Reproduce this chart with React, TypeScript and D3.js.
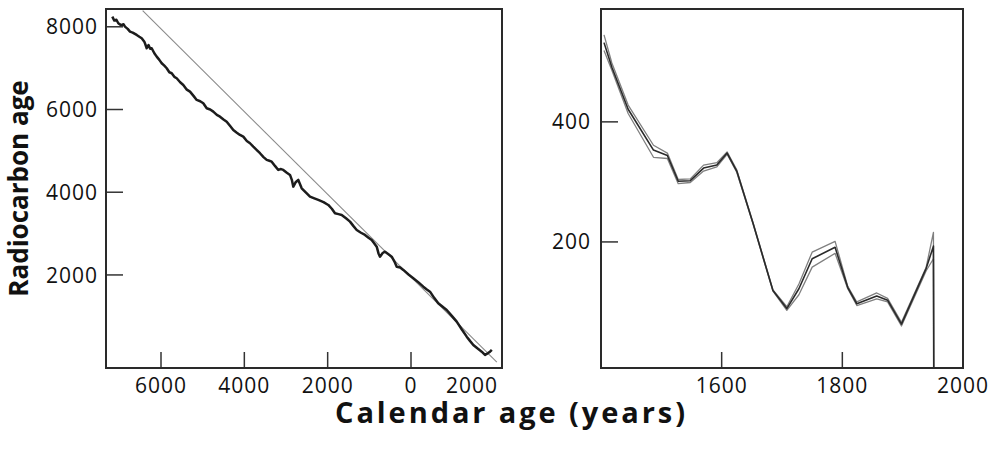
import React from 'react';
import * as d3 from 'd3';

// left panel: calibration curve, calendar year (BC negative) vs radiocarbon age
const calYears = [
  -7169, -7120, -7070, -7025, -6960, -6900, -6864, -6800, -6744, -6680, -6583, -6520, -6463, -6400,
  -6370, -6343, -6300, -6260, -6223, -6160, -6103, -6040, -5983, -5920, -5863, -5800, -5743, -5680,
  -5623, -5540, -5465, -5380, -5304, -5220, -5143, -5060, -4985, -4903, -4820, -4745, -4660, -4584,
  -4500, -4423, -4340, -4265, -4180, -4104, -4025, -3940, -3864, -3785, -3700, -3624, -3540, -3463,
  -3400, -3343, -3260, -3185, -3120, -3065, -2980, -2904, -2860, -2825, -2770, -2705, -2623, -2520,
  -2424, -2320, -2225, -2100, -1985, -1900, -1824, -1740, -1663, -1560, -1464, -1380, -1303, -1200,
  -1104, -1020, -943, -880, -823, -780, -744, -680, -624, -540, -463, -400, -343, -260, -185, -60,
  55, 180, 295, 380, 456, 560, 655, 760, 857, 980, 1097, 1220, 1337, 1420, 1495, 1600, 1697, 1776,
  1850, 1896, 1940,
];
const c14Ages = [
  8245, 8150, 8170, 8086, 8040, 8060, 8004, 7950, 7883, 7860, 7803, 7760, 7723, 7640,
  7560, 7481, 7560, 7470, 7481, 7360, 7278, 7200, 7119, 7060, 6998, 6900, 6877, 6790,
  6756, 6660, 6594, 6480, 6432, 6330, 6231, 6200, 6151, 6031, 6000, 5948, 5870, 5827,
  5760, 5706, 5600, 5506, 5440, 5385, 5344, 5240, 5184, 5102, 5020, 4943, 4850, 4781,
  4760, 4739, 4630, 4539, 4560, 4539, 4470, 4418, 4300, 4135, 4240, 4297, 4096, 3990,
  3893, 3850, 3813, 3760, 3692, 3600, 3492, 3470, 3450, 3370, 3289, 3180, 3088, 3020,
  2968, 2900, 2847, 2760, 2684, 2520, 2442, 2530, 2563, 2500, 2442, 2330, 2200, 2180, 2121, 2010,
  1920, 1820, 1717, 1650, 1596, 1440, 1315, 1230, 1153, 1010, 870, 680, 508, 400, 307, 220, 145, 65,
  110, 145, 190,
];
// 1:1 line (radiocarbon age = 1950 - calendar year)
const refYears = [-6440, 2060];

const leftXTicks = [-6000, -4000, -2000, 0];
const leftXLabels = [
  { v: -6000, t: '6000' }, { v: -4000, t: '4000' }, { v: -2000, t: '2000' }, { v: 0, t: '0' }, { v: 2000, t: '2000' },
];
const leftYTicks = [2000, 4000, 6000, 8000];

// right panel: last 600 years, three curves (upper / central / lower)
const recentYears = [
  1405, 1418, 1445, 1487, 1510, 1528, 1548, 1570, 1592, 1609, 1625, 1652, 1685, 1708, 1728, 1750,
  1788, 1809, 1824, 1857, 1875, 1898, 1939, 1951, 1951.5,
];
const upperAges = [
  545, 498, 428, 361, 348, 304, 305, 328, 332, 350, 320, 232, 120, 92, 130, 183,
  201, 126, 100, 115, 106, 66, 158, 216, -10,
];
const midAges = [
  532, 491, 421, 353, 344, 301, 302, 323, 328, 348, 318, 231, 119, 89, 122, 172,
  191, 124, 97, 110, 103, 63, 156, 193, -10,
];
const lowerAges = [
  519, 486, 414, 341, 339, 297, 299, 318, 325, 346, 316, 230, 118, 86, 112, 158,
  181, 122, 94, 105, 100, 60, 152, 172, -10,
];
const rightXTicks = [1600, 1800];
const rightXLabels = [1600, 1800, 2000];
const rightYTicks = [200, 400];

const W = 997;
const H = 449;
const FONT = '"Open Sans", "DejaVu Sans", sans-serif';
const L = { x0: 106, x1: 502, y0: 9, y1: 368 };
const R = { x0: 601, x1: 963, y0: 9, y1: 368 };

export default function App() {
  const lx = d3.scaleLinear().domain([-7320, 2184]).range([L.x0, L.x1]);
  const ly = d3.scaleLinear().domain([-250, 8430]).range([L.y1, L.y0]);
  const rx = d3.scaleLinear().domain([1400, 2000]).range([R.x0, R.x1]);
  const ry = d3.scaleLinear().domain([-10, 588]).range([R.y1, R.y0]);

  const curve = d3.line<number>().x((_, i) => lx(calYears[i])).y((d) => ly(d));
  const refLine = d3.line<number>().x((d) => lx(d)).y((d) => ly(1950 - d));
  const rLine = d3.line<number>().x((_, i) => rx(recentYears[i])).y((d) => ry(d));

  const tickLabel = { fontFamily: FONT, fontSize: 21, letterSpacing: 1, fill: '#111' } as const;

  return (
    <svg width={W} height={H} style={{ position: 'absolute', left: 0, top: 0, background: '#fff' }}>
      <defs>
        <clipPath id="clipL">
          <rect x={L.x0} y={L.y0} width={L.x1 - L.x0} height={L.y1 - L.y0} />
        </clipPath>
      </defs>

      {/* left panel */}
      <g clipPath="url(#clipL)">
        <path d={refLine(refYears) || ''} fill="none" stroke="#8a8a8a" strokeWidth={1.1} />
        <path d={curve(c14Ages) || ''} fill="none" stroke="#1c1c1c" strokeWidth={2.5} strokeLinejoin="round" />
      </g>
      {leftYTicks.map((v) => (
        <g key={'ly' + v}>
          <line x1={L.x0} x2={L.x0 + 17} y1={ly(v)} y2={ly(v)} stroke="#333" strokeWidth={1.5} />
          <text x={L.x0 - 8} y={ly(v)} dy="0.36em" textAnchor="end" {...tickLabel}>{v}</text>
        </g>
      ))}
      {leftXTicks.map((v) => (
        <line key={'lxt' + v} x1={lx(v)} x2={lx(v)} y1={L.y1} y2={L.y1 - 16} stroke="#333" strokeWidth={1.5} />
      ))}
      {leftXLabels.map((d) => (
        <text key={'lxl' + d.v} x={Math.min(lx(d.v), L.x1 - 30)} y={L.y1 + 25} textAnchor="middle" {...tickLabel}>{d.t}</text>
      ))}
      <rect x={L.x0} y={L.y0} width={L.x1 - L.x0} height={L.y1 - L.y0} fill="none" stroke="#2a2a2a" strokeWidth={2} />

      {/* right panel */}
      <path d={rLine(upperAges) || ''} fill="none" stroke="#808080" strokeWidth={1.3} strokeLinejoin="round" />
      <path d={rLine(lowerAges) || ''} fill="none" stroke="#808080" strokeWidth={1.3} strokeLinejoin="round" />
      <path d={rLine(midAges) || ''} fill="none" stroke="#2a2a2a" strokeWidth={1.6} strokeLinejoin="round" />
      {rightYTicks.map((v) => (
        <g key={'ry' + v}>
          <line x1={R.x0} x2={R.x0 + 17} y1={ry(v)} y2={ry(v)} stroke="#333" strokeWidth={1.5} />
          <text x={R.x0 - 10} y={ry(v)} dy="0.36em" textAnchor="end" {...tickLabel}>{v}</text>
        </g>
      ))}
      {rightXTicks.map((v) => (
        <line key={'rxt' + v} x1={rx(v)} x2={rx(v)} y1={R.y1} y2={R.y1 - 16} stroke="#333" strokeWidth={1.5} />
      ))}
      {rightXLabels.map((v) => (
        <text key={'rxl' + v} x={rx(v)} y={R.y1 + 25} textAnchor="middle" {...tickLabel}>{v}</text>
      ))}
      <rect x={R.x0} y={R.y0} width={R.x1 - R.x0} height={R.y1 - R.y0} fill="none" stroke="#2a2a2a" strokeWidth={2} />

      {/* axis titles */}
      <text
        transform={`translate(28,${(L.y0 + L.y1) / 2}) rotate(-90)`}
        textAnchor="middle"
        fontFamily={FONT}
        fontWeight="bold"
        fontSize={26}
        fill="#111"
      >
        Radiocarbon age
      </text>
      <text
        x={510}
        y={423}
        textAnchor="middle"
        fontFamily={FONT}
        fontWeight="bold"
        fontSize={29}
        fill="#111"
        textLength={350}
        lengthAdjust="spacing"
      >
        Calendar age (years)
      </text>
    </svg>
  );
}
